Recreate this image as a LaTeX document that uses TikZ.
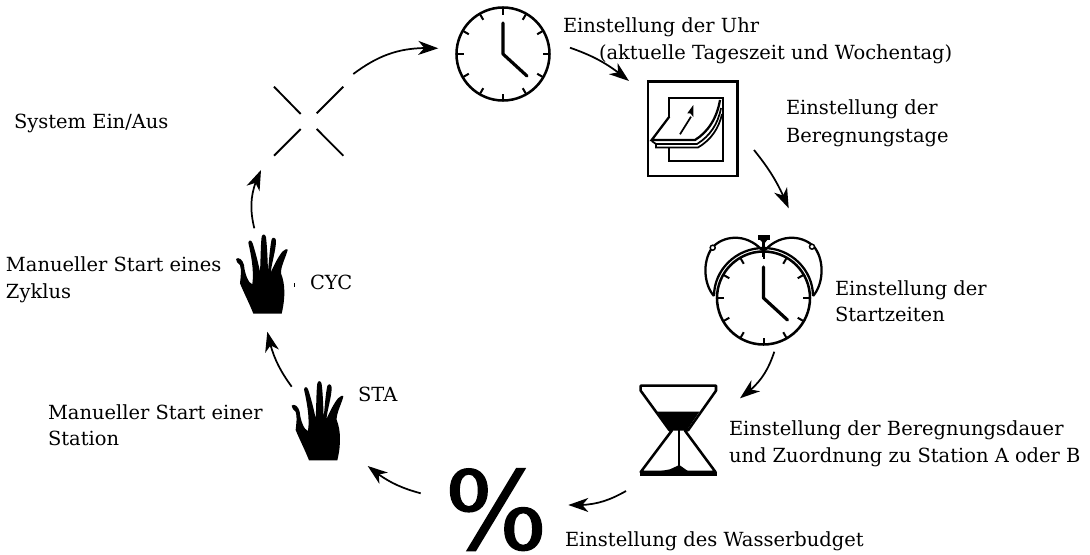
\documentclass[tikz,border=0pt]{standalone}
\usepackage{fontspec}
\setmainfont{DejaVu Serif}
\newfontfamily\pctfont[FakeBold=1.6]{DejaVu Serif}
\usetikzlibrary{arrows.meta,bending}
\definecolor{ink}{HTML}{000000}
\tikzset{
  x=0.75pt,y=-0.75pt,
  lab/.style={inner sep=0pt,outer sep=0pt,anchor=base west,align=left,font=\fontsize{14.6}{17}\selectfont,text=ink},
  icon/.style={draw=ink,line width=1.9pt,line join=miter},
  thick icon/.style={draw=ink,line width=2.4pt},
  thin icon/.style={draw=ink,line width=1.3pt},
  flow/.style={draw=ink,line width=1.3pt,-{Stealth[length=15pt,width=10.5pt,inset=4.5pt]}},
  switch/.style={draw=ink,line width=1.4pt}
}
\newcommand{\clockface}[2]{%
  \begin{scope}[shift={(#1,#2)}]
    \draw[icon] (0,0) circle[radius=46.5];
    \foreach \a in {0,30,...,330}{\draw[draw=ink,line width=1.5pt] (\a:46.5) -- (\a:39.5);}
    \draw[thick icon,line cap=round,line join=round] (0,-31) -- (0,0) -- (24,22);
  \end{scope}}
\newcommand{\handshape}[2]{%
  \begin{scope}[shift={(#1,#2)},scale=0.3333]
    \fill[ink] (100,281) .. controls (88,250) and (70,215) .. (60,190)
     .. controls (62,170) and (65,150) .. (60,135)
     .. controls (55,128) and (46,125) .. (48,117)
     .. controls (55,110) and (68,118) .. (72,135)
     .. controls (74,160) and (85,190) .. (97,193)
     .. controls (103,150) and (92,100) .. (85,68)
     .. controls (87,58) and (95,60) .. (98,70)
     .. controls (106,95) and (115,130) .. (120,155)
     .. controls (122,120) and (122,70) .. (125,50)
     .. controls (128,40) and (136,42) .. (138,52)
     .. controls (142,85) and (143,125) .. (144,155)
     .. controls (147,120) and (150,80) .. (155,58)
     .. controls (158,50) and (167,52) .. (168,62)
     .. controls (168,90) and (156,125) .. (152,158)
     .. controls (162,135) and (175,110) .. (187,95)
     .. controls (192,88) and (203,85) .. (203,90)
     .. controls (196,115) and (182,140) .. (183,160)
     .. controls (195,190) and (197,230) .. (185,281) -- cycle;
  \end{scope}}
\begin{document}
\begin{tikzpicture}
\useasboundingbox (0,0) rectangle (1090,554);
\clockface{503}{54}
\clockface{763.5}{298}
% alarm bells
\draw[icon,line width=1.7pt,fill=none] (714,296) .. controls (704,285) and (702,262) .. (712,248) .. controls (722,236) and (745,232) .. (762,250);
\draw[icon,line width=1.7pt,fill=none] (813,296) .. controls (823,285) and (825,262) .. (815,248) .. controls (805,236) and (782,232) .. (765,250);
\draw[icon,line width=1.7pt] (714,296) .. controls (714,270) and (736,248) .. (763.5,248) .. controls (791,248) and (813,270) .. (813,296);
\draw[draw=ink,line width=1.1pt,fill=white] (712.7,247.7) circle[radius=2.5];
\draw[draw=ink,line width=1.1pt,fill=white] (812,246.7) circle[radius=2.5];
\draw[draw=ink,line width=3.6pt] (758,237.5) -- (770,237.5);
\draw[draw=ink,line width=1.8pt] (763.5,238) -- (763.5,257);
\fill[ink] (759,239) -- (768,239) -- (764,244) -- cycle;
% calendar
\node[draw=ink,line width=1.9pt,minimum width=67pt,inner sep=0pt,minimum height=71pt] (cal) at (692.7,128.8) {};
\draw[icon,line width=1.7pt] (669.3,116.7) -- (669.3,98.3) -- (723,98.3) -- (723,161) -- (669.3,161) -- (669.3,148.3);
\draw[icon,line width=1.7pt] (669.3,116.7) -- (651.7,140) -- (695,140) .. controls (708,132) and (717,118) .. (720,100);
\draw[thin icon] (651.7,141) -- (656,144) -- (697,144) .. controls (710,136) and (718,124) .. (721,108);
\draw[thin icon] (656,144) -- (656,147.5) -- (698,147.5) .. controls (711,140) and (719,128) .. (722,114);
\draw[thin icon] (680,134.3) -- (691,116.7);
\fill[ink] (693.3,105) -- (693.3,117) -- (690.5,113.5) -- (687.3,113.3) -- cycle;
% hourglass
\draw[icon,line join=round] (640.7,385.7) -- (716,385.7) -- (716,390.7) -- (688.3,430) -- (685,430.7) -- (715.5,472) -- (640.7,472) -- (671.7,430.7) -- (669.3,430) -- (640.7,390.7) -- cycle;
\fill[ink] (657.3,411.7) -- (699.3,411.7) -- (686.7,430.5) -- (670,430.5) -- cycle;
\fill[ink] (640,471.5) rectangle (716.5,475.5);
\draw[thin icon] (678.7,430) -- (678.7,466);
\fill[ink] (653.3,472.5) -- (670,469.3) -- (679.3,465) -- (690,472.5) -- cycle;
% percent
\node[inner sep=0pt,outer sep=0pt,anchor=base,font=\fontsize{81}{81}\pctfont\selectfont,text=ink] (pct) at (496,549) {\%};
% hands
\handshape{220}{220}
\handshape{275.67}{366.67}
% switch
\coordinate (xa) at (274,86.7); \coordinate (xb) at (300.7,114);
\coordinate (xc) at (343.3,86.7); \coordinate (xd) at (316.7,113.3);
\coordinate (xe) at (274,155.7); \coordinate (xf) at (300.7,129);
\coordinate (xg) at (343.3,155.7); \coordinate (xh) at (316.7,129);
\draw[switch] (xa)--(xb) (xc)--(xd) (xe)--(xf) (xg)--(xh);
% arrows
\coordinate (a1) at (353.3,74); \coordinate (a2) at (438.3,48.3);
\coordinate (b1) at (570,47.7); \coordinate (b2) at (629,81);
\coordinate (c1a) at (754,150); \coordinate (c2a) at (788.7,208.3);
\coordinate (d1) at (774.3,351.7); \coordinate (d2) at (740,398.3);
\coordinate (e1) at (626,491); \coordinate (e2) at (568.3,505);
\coordinate (f1) at (420.7,493.3); \coordinate (f2) at (367.7,466);
\coordinate (g1) at (291.7,386.7); \coordinate (g2) at (267.3,331.7);
\coordinate (h1) at (254.3,228.3); \coordinate (h2) at (261,170);
\draw[flow] (a1) to[bend left=20] (a2);
\draw[flow] (b1) to[bend left=10] (b2);
\draw[flow] (c1a) to[bend left=8] (c2a);
\draw[flow] (d1) to[bend left=18] (d2);
\draw[flow] (e1) to[bend left=16] (e2);
\draw[flow] (f1) to[bend left=12] (f2);
\draw[flow] (g1) to[bend left=12] (g2);
\draw[flow] (h1) to[bend left=20] (h2);
\coordinate (sp1) at (294,283); \coordinate (sp2) at (294,287);
\draw[draw=ink,line width=0.6pt] (sp1) -- (sp2);
% labels
\node[lab] (t1) at (563,32) {Einstellung der Uhr};
\node[lab] (t2) at (599,59) {(aktuelle Tageszeit und Wochentag)};
\node[lab] (t3) at (786,114) {Einstellung der};
\node[lab] (t4) at (786,142) {Beregnungstage};
\node[lab] (t5) at (835,295) {Einstellung der};
\node[lab] (t6) at (835,321) {Startzeiten};
\node[lab] (t7) at (729,435) {Einstellung der Beregnungsdauer};
\node[lab] (t8) at (729,462) {und Zuordnung zu Station A oder B};
\node[lab] (t9) at (565,546) {Einstellung des Wasserbudget};
\node[lab] (t10) at (358,401) {STA};
\node[lab] (t11) at (48,419) {Manueller Start einer};
\node[lab] (t12) at (48,445) {Station};
\node[lab] (t13) at (310,289) {CYC};
\node[lab] (t14) at (6,271) {Manueller Start eines};
\node[lab] (t15) at (6,298) {Zyklus};
\node[lab] (t16) at (14,128) {System Ein/Aus};
\end{tikzpicture}
\end{document}
